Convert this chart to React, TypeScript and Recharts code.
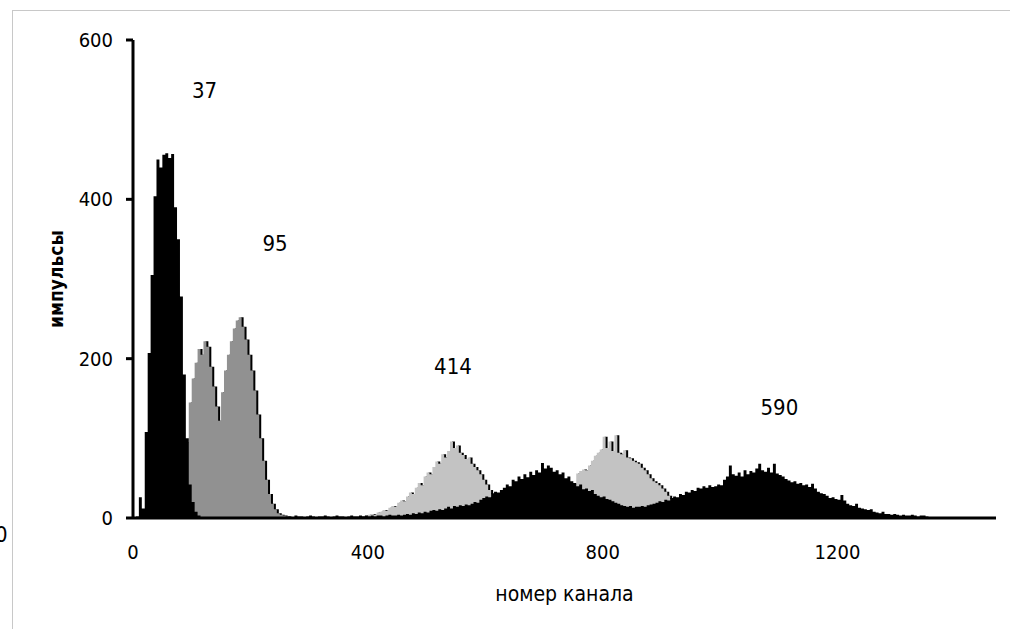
import { Area, ComposedChart, Label, ReferenceDot, XAxis, YAxis } from "recharts";

// spectra, counts per 5-channel bin
const binWidth = 5;
const lastChannel = 1470;

const peak37Start = 0;
const peak37 = [
  0, 2, 26, 12, 108, 207, 305, 404, 450, 440, 456, 458, 452, 457, 390, 350,
  278, 180, 100, 42, 20, 8, 3, 1,
];

const peak95Start = 80;
const peak95 = [
  20, 45, 95, 145, 175, 195, 212, 205, 222, 215, 190, 165, 140, 122, 158, 185,
  205, 222, 238, 248, 252, 240, 224, 205, 185, 160, 130, 100, 72, 48, 30, 18,
  11, 6, 4, 3, 2, 1,
];

const peak414Start = 380;
const peak414 = [
  1, 2, 2, 3, 4, 5, 4, 7, 8, 10, 9, 13, 15, 14, 19, 22, 21, 27, 32, 30,
  38, 44, 41, 52, 57, 55, 64, 71, 68, 80, 76, 84, 96, 88, 91, 82, 79, 74, 76, 68,
  64, 60, 55, 48, 42, 35, 30, 27, 24, 21, 19, 18, 17, 16, 16, 17, 18, 19, 20, 22,
  24, 26, 28, 30, 32, 34, 35, 37, 38, 40, 41, 42, 43, 43, 42, 56, 59, 61, 60, 66,
  72, 78, 82, 86, 102, 88, 96, 84, 104, 82, 80, 85, 76, 75, 72, 70, 68, 63, 60, 55,
  50, 46, 44, 41, 37, 33, 28, 24, 20, 15, 10, 6, 3,
];

const peak590Start = 250;
const peak590 = [
  2, 1, 2, 2, 1, 3, 2, 2, 1, 2,
  3, 2, 1, 2, 2, 3, 2, 1, 2, 3,
  2, 2, 1, 2, 3, 2, 2, 3, 2, 3,
  2, 3, 2, 3, 3, 2, 3, 4, 3, 3,
  4, 3, 4, 5, 4, 6, 5, 7, 6, 8,
  7, 9, 10, 9, 11, 10, 12, 14, 12, 15,
  14, 16, 15, 17, 16, 18, 20, 19, 23, 25,
  27, 26, 31, 33, 32, 35, 38, 42, 40, 48,
  46, 52, 49, 55, 51, 58, 54, 60, 57, 69,
  62, 66, 63, 58, 60, 55, 57, 50, 52, 46,
  44, 40, 42, 36, 37, 34, 35, 30, 28, 26,
  27, 24, 23, 21, 19, 18, 16, 15, 14, 15,
  13, 14, 14, 15, 14, 16, 17, 18, 19, 21,
  20, 23, 22, 25, 27, 26, 30, 29, 33, 32,
  35, 34, 38, 37, 40, 38, 41, 39, 40, 42,
  41, 48, 52, 66, 55, 53, 57, 52, 60, 55,
  59, 57, 62, 68, 60, 58, 63, 57, 68, 56,
  54, 52, 49, 47, 45, 46, 43, 44, 41, 42,
  39, 43, 37, 33, 31, 30, 28, 25, 26, 24,
  23, 29, 22, 18, 16, 15, 18, 13, 12, 11,
  10, 11, 8, 7, 6, 8, 5, 5, 4, 5,
  4, 3, 4, 3, 3, 4, 3, 2, 3, 3,
  2, 1, 1, 1, 1, 1, 1, 1, 1, 1,
];

const peakNames = ["37", "95", "414", "590"];
const peakLabelChannel = [122, 242, 545, 1101];
const peakLabelCount = [537, 345, 191, 139];

const xTicks = [0, 400, 800, 1200];
const yTicks = [0, 200, 400, 600];

const pick = (arr: number[], start: number, ch: number) => {
  const i = (ch - start) / binWidth;
  return i >= 0 && i < arr.length ? arr[i] : 0;
};

const rows: any[] = [];
for (let ch = 0; ch <= lastChannel; ch += binWidth) {
  rows.push({
    ch,
    s37: pick(peak37, peak37Start, ch),
    s95: pick(peak95, peak95Start, ch),
    s414: pick(peak414, peak414Start, ch),
    s590: pick(peak590, peak590Start, ch),
  });
}

const font = "'DejaVu Sans Condensed', 'DejaVu Sans', sans-serif";
const tickStyle = { fill: "#000", fontSize: 20, fontFamily: font };

const YTitle = ({ viewBox }: any) => {
  const x = viewBox.x + 13;
  const y = viewBox.y + viewBox.height / 2;
  return (
    <text
      x={x}
      y={y}
      transform={`rotate(-90 ${x} ${y})`}
      textAnchor="middle"
      dominantBaseline="central"
      fontFamily={font}
      fontWeight="bold"
      fontSize={19}
      fill="#000"
    >
      импульсы
    </text>
  );
};

export default function App() {
  return (
    <div
      style={{
        position: "absolute",
        left: 0,
        top: 0,
        width: 1010,
        height: 629,
        background: "#fff",
        overflow: "hidden",
      }}
    >
      <style>{`.shadow-area { transform: translateX(2px); }`}</style>
      <div
        style={{
          position: "absolute",
          left: 12,
          top: 10,
          right: 0,
          bottom: 0,
          borderLeft: "1px solid #c8c8c8",
          borderTop: "1px solid #c8c8c8",
        }}
      />
      <span
        style={{
          position: "absolute",
          left: -5,
          top: 522,
          fontSize: 22,
          fontFamily: font,
        }}
      >
        0
      </span>
      <ComposedChart
        width={1010}
        height={629}
        data={rows}
        margin={{ top: 40, right: 14, bottom: 28, left: 43 }}
        style={{ position: "absolute", left: 0, top: 0 }}
      >
        <XAxis
          dataKey="ch"
          type="number"
          domain={[0, lastChannel]}
          ticks={xTicks}
          height={83}
          axisLine={{ stroke: "#000", strokeWidth: 3 }}
          tickLine={false}
          tickSize={6}
          tickMargin={21}
          tick={tickStyle}
        >
          <Label
            value="номер канала"
            position="insideBottom"
            offset={0}
            style={{ fontFamily: font, fontSize: 21, fill: "#000" }}
          />
        </XAxis>
        <YAxis
          type="number"
          domain={[0, 600]}
          ticks={yTicks}
          width={90}
          axisLine={{ stroke: "#000", strokeWidth: 3 }}
          tickLine={{ stroke: "#000", strokeWidth: 3 }}
          tickSize={7}
          tickMargin={13}
          tick={tickStyle}
        >
          <Label content={<YTitle />} />
        </YAxis>
        <Area
          className="shadow-area"
          type="stepAfter"
          dataKey="s414"
          stroke="none"
          fill="#000"
          fillOpacity={1}
          isAnimationActive={false}
          activeDot={false}
        />
        <Area
          type="stepAfter"
          dataKey="s414"
          stroke="none"
          fill="#c3c3c3"
          fillOpacity={1}
          isAnimationActive={false}
          activeDot={false}
        />
        <Area
          type="stepAfter"
          dataKey="s590"
          stroke="none"
          fill="#000"
          fillOpacity={1}
          isAnimationActive={false}
          activeDot={false}
        />
        <Area
          className="shadow-area"
          type="stepAfter"
          dataKey="s95"
          stroke="none"
          fill="#000"
          fillOpacity={1}
          isAnimationActive={false}
          activeDot={false}
        />
        <Area
          type="stepAfter"
          dataKey="s95"
          stroke="none"
          fill="#919191"
          fillOpacity={1}
          isAnimationActive={false}
          activeDot={false}
        />
        <Area
          type="stepAfter"
          dataKey="s37"
          stroke="none"
          fill="#000"
          fillOpacity={1}
          isAnimationActive={false}
          activeDot={false}
        />
        {peakNames.map((name, i) => (
          <ReferenceDot
            key={name}
            x={peakLabelChannel[i]}
            y={peakLabelCount[i]}
            r={0}
            fill="none"
            stroke="none"
            label={{
              value: name,
              position: "center",
              fontFamily: font,
              fontSize: 22,
              fill: "#000",
            }}
          />
        ))}
      </ComposedChart>
    </div>
  );
}
